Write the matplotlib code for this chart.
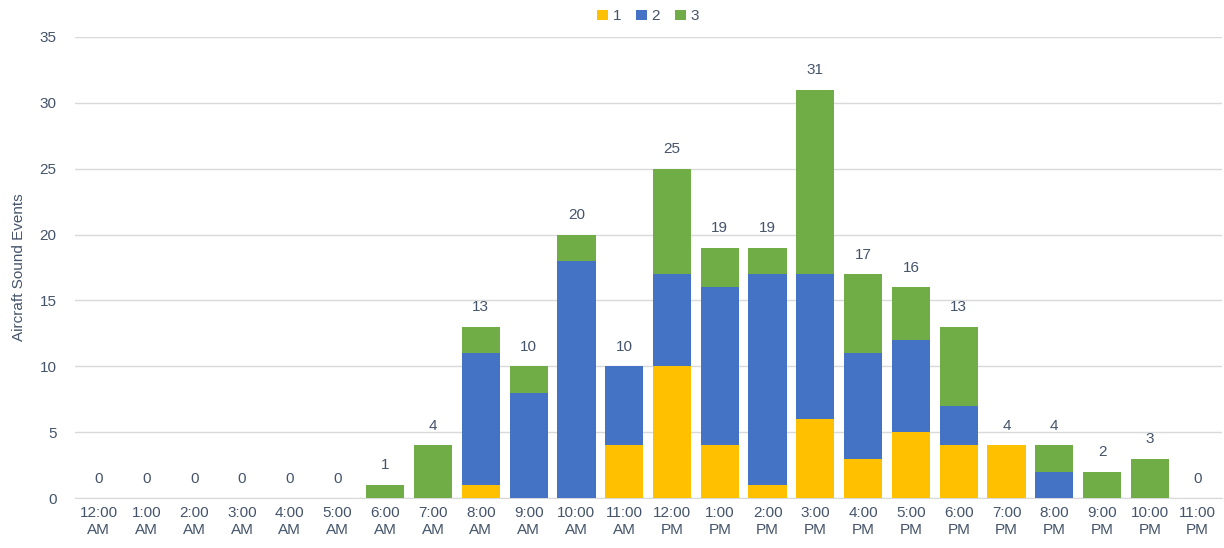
import numpy as np
import matplotlib.pyplot as plt

plt.rcParams['font.family'] = ['Liberation Sans', 'DejaVu Sans']

hours = ['12:00\nAM', '1:00\nAM', '2:00\nAM', '3:00\nAM', '4:00\nAM', '5:00\nAM',
         '6:00\nAM', '7:00\nAM', '8:00\nAM', '9:00\nAM', '10:00\nAM', '11:00\nAM',
         '12:00\nPM', '1:00\nPM', '2:00\nPM', '3:00\nPM', '4:00\nPM', '5:00\nPM',
         '6:00\nPM', '7:00\nPM', '8:00\nPM', '9:00\nPM', '10:00\nPM', '11:00\nPM']
s1 = [0, 0, 0, 0, 0, 0, 0, 0, 1, 0, 0, 4, 10, 4, 1, 6, 3, 5, 4, 4, 0, 0, 0, 0]
s2 = [0, 0, 0, 0, 0, 0, 0, 0, 10, 8, 18, 6, 7, 12, 16, 11, 8, 7, 3, 0, 2, 0, 0, 0]
s3 = [0, 0, 0, 0, 0, 0, 1, 4, 2, 2, 2, 0, 8, 3, 2, 14, 6, 4, 6, 0, 2, 2, 3, 0]

txt = '#44546A'
fig = plt.figure(figsize=(12.24, 5.48), dpi=100)
ax = fig.add_axes([0.061, 0.0912, 0.937, 0.8413])

x = np.arange(len(hours))
a1 = np.array(s1)
a2 = np.array(s2)
a3 = np.array(s3)
w = 0.8
ax.bar(x, a1, w, color='#FFC000', label='1', zorder=3)
ax.bar(x, a2, w, bottom=a1, color='#4472C4', label='2', zorder=3)
ax.bar(x, a3, w, bottom=a1 + a2, color='#70AD47', label='3', zorder=3)

tot = a1 + a2 + a3
for i, t in enumerate(tot):
    ax.annotate(str(t), (x[i], t), xytext=(0, 9), textcoords='offset points',
                ha='center', va='bottom', fontsize=11, color=txt)

ax.set_xlim(-0.5, len(hours) - 0.5)
ax.set_ylim(0, 35)
ax.set_yticks(range(0, 36, 5))
ax.set_xticks(x)
ax.set_xticklabels(hours)
ax.tick_params(axis='both', length=0, labelsize=11, labelcolor=txt)
ax.tick_params(axis='y', pad=13)
ax.tick_params(axis='x', pad=6)
ax.grid(axis='y', color='#D9D9D9', linewidth=1, zorder=0)
for s in ['top', 'right', 'left']:
    ax.spines[s].set_visible(False)
ax.spines['bottom'].set_color('#D9D9D9')
ax.set_ylabel('Aircraft Sound Events', fontsize=11, color=txt, labelpad=10)

ax.legend(loc='lower center', bbox_to_anchor=(0.5, 1.01), ncol=3, frameon=False,
          fontsize=11, labelcolor=txt, handlelength=0.7, handleheight=0.7,
          handletextpad=0.3, columnspacing=1.0, borderaxespad=0.2)

fig.savefig('out.png', dpi=100)
